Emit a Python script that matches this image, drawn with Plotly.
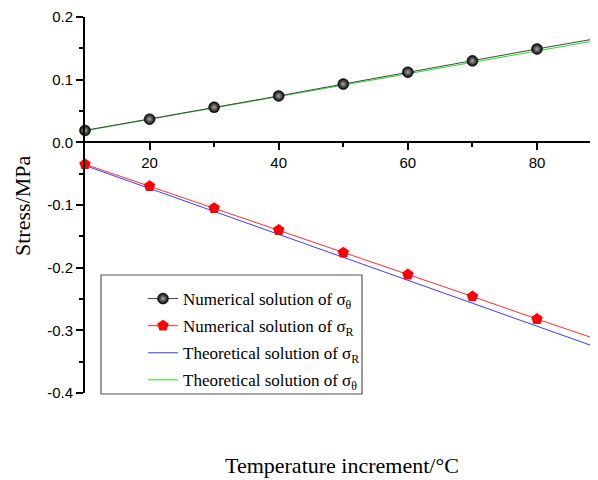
import plotly.graph_objects as go

temp = [10, 20, 30, 40, 50, 60, 70, 80, 90]
num_theta = [0.019, 0.037, 0.056, 0.074, 0.093, 0.112, 0.130, 0.149, 0.167]
num_R = [-0.035, -0.070, -0.105, -0.140, -0.176, -0.211, -0.246, -0.282, -0.317]
theo_R = [-0.037, -0.0735, -0.110, -0.147, -0.183, -0.220, -0.257, -0.293, -0.330]
theo_theta = [0.0185, 0.0367, 0.0550, 0.0733, 0.0916, 0.110, 0.128, 0.146, 0.164]

ytick_vals = [0.2, 0.1, 0.0, -0.1, -0.2, -0.3, -0.4]
ytick_text = ["0.2", "0.1", "0.0", "-0.1", "-0.2", "-0.3", "-0.4"]
xtick_vals = [20, 40, 60, 80]
xtick_text = ["20", "40", "60", "80"]

names = [
    "Numerical solution of σ<sub>θ</sub>",
    "Numerical solution of σ<sub>R</sub>",
    "Theoretical solution of σ<sub>R</sub>",
    "Theoretical solution of σ<sub>θ</sub>",
]

# page body has an 8px margin: figure coordinates are offset by 8px
OFF = 8
W, H = 598, 480 - OFF
L, T, B = 85 - OFF, 17 - OFF, 393 - OFF
PW, PH = W - L, B - T


def px(x):
    return (x - OFF - L) / PW


def py(y):
    return (B - (y - OFF)) / PH


fig = go.Figure()
fig.add_trace(go.Scatter(x=temp, y=theo_R, mode="lines", name=names[2], legendrank=3,
                         legendgroup="c", line=dict(color="#3b3bff", width=1), cliponaxis=False))
fig.add_trace(go.Scatter(x=temp, y=theo_theta, mode="lines", name=names[3], legendrank=4,
                         legendgroup="d", line=dict(color="#22dd22", width=1), cliponaxis=False))
fig.add_trace(go.Scatter(x=temp, y=num_theta, mode="lines+markers", name=names[0], legendrank=1,
                         legendgroup="a", line=dict(color="#444444", width=1), cliponaxis=False,
                         marker=dict(symbol="circle", size=11, color="#000000",
                                     gradient=dict(type="radial", color="#a8a8a8"),
                                     line=dict(color="#000000", width=0.5))))
fig.add_trace(go.Scatter(x=temp, y=num_R, mode="lines+markers", name=names[1], legendrank=2,
                         legendgroup="b", line=dict(color="#ff3030", width=1), cliponaxis=False,
                         marker=dict(symbol="pentagon", size=12, color="#ff0000",
                                     line=dict(width=0))))

axis_common = dict(showgrid=False, zeroline=False, showline=True, linecolor="black",
                   linewidth=2, ticks="outside", tickwidth=1.5, ticklen=7, tickcolor="black",
                   tickfont=dict(family="Liberation Sans, Arial", size=15, color="black"))

xmax = 10 + PW / 6.457

fig.update_layout(
    width=W, height=H,
    margin=dict(l=L, r=0, t=T, b=H - B),
    paper_bgcolor="white", plot_bgcolor="white",
    xaxis=dict(range=[10, xmax], tickmode="array", tickvals=xtick_vals, ticktext=xtick_text,
               anchor="free", position=(0.4 / 0.6),
               minor=dict(ticks="outside", tickvals=[30, 50, 70], ticklen=4, tickwidth=1.5,
                          tickcolor="black"),
               **axis_common),
    yaxis=dict(range=[-0.4, 0.2], tickmode="array", tickvals=ytick_vals, ticktext=ytick_text,
               minor=dict(ticks="outside", tickvals=[0.15, 0.05, -0.05, -0.15, -0.25, -0.35],
                          ticklen=4, tickwidth=1.5, tickcolor="black"),
               **axis_common),
    showlegend=True,
    legend=dict(x=px(143), y=py(281), xanchor="left", yanchor="top",
                bgcolor="rgba(0,0,0,0)", borderwidth=0, tracegroupgap=2,
                font=dict(family="Liberation Serif, Times New Roman", size=17, color="black")),
    shapes=[dict(type="rect", xref="paper", yref="paper",
                 x0=px(101), x1=px(362), y0=py(394), y1=py(275),
                 line=dict(color="#555555", width=1.2), fillcolor="rgba(0,0,0,0)")],
    annotations=[
        dict(text="Temperature increment/°C", xref="paper", yref="paper",
             x=px(342), y=py(466), xanchor="center", yanchor="middle",
             showarrow=False, font=dict(family="Liberation Serif, Times New Roman", size=22,
                                        color="black")),
        dict(text="Stress/MPa", xref="paper", yref="paper", textangle=-90,
             x=px(22), y=py(206), xanchor="center", yanchor="middle",
             showarrow=False, font=dict(family="Liberation Serif, Times New Roman", size=22,
                                        color="black")),
    ],
)

fig.write_html("out.html")
